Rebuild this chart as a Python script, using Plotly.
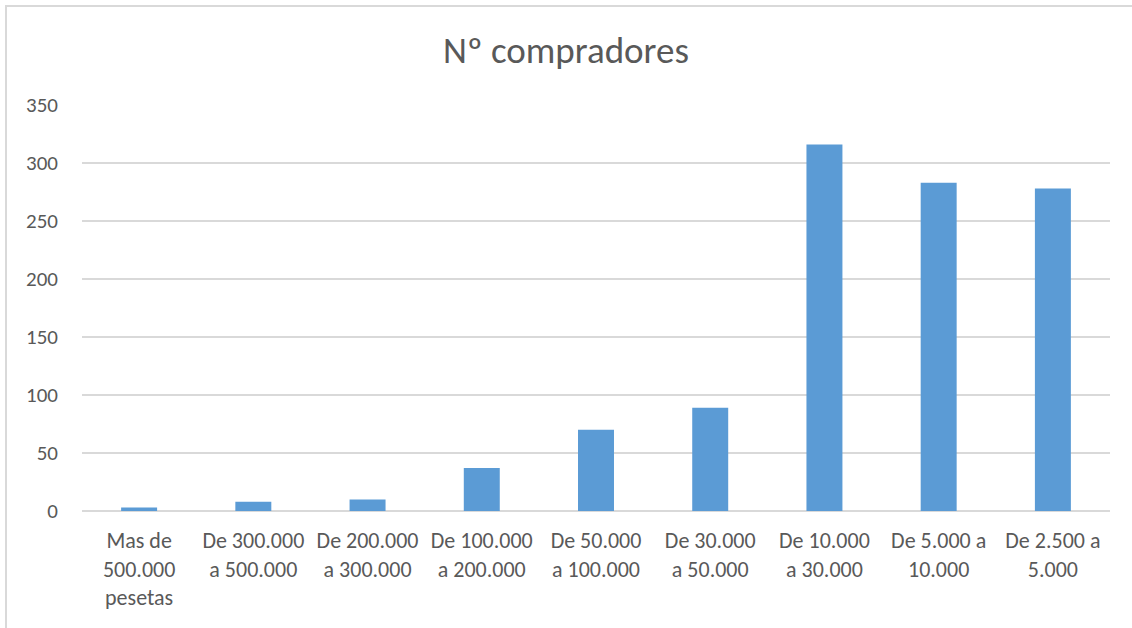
import plotly.graph_objects as go

categories = [
    "Mas de<br>500.000<br>pesetas",
    "De 300.000<br>a 500.000",
    "De 200.000<br>a 300.000",
    "De 100.000<br>a 200.000",
    "De 50.000<br>a 100.000",
    "De 30.000<br>a 50.000",
    "De 10.000<br>a 30.000",
    "De 5.000 a<br>10.000",
    "De 2.500 a<br>5.000",
]
compradores = [3, 8, 10, 37, 70, 89, 316, 283, 278]
y_ticks = [0, 50, 100, 150, 200, 250, 300, 350]

FONT = "Carlito, Lato, 'Open Sans', sans-serif"
TEXT = "#595959"
GRID = "#d9d9d9"

fig = go.Figure(
    go.Bar(
        x=categories,
        y=compradores,
        marker=dict(color="#5B9BD5", line=dict(width=0)),
        name="Nº compradores",
    )
)

W, H = 1132, 628
L, R, T, B = 82, 22, 105, 117
pw, ph = W - L - R, H - T - B

fig.update_layout(
    width=W,
    height=H,
    margin=dict(l=L, r=R, t=T, b=B, pad=0),
    paper_bgcolor="white",
    plot_bgcolor="white",
    bargap=0.685,
    showlegend=False,
    font=dict(family=FONT, color=TEXT, size=21),
    title=dict(
        text="Nº compradores",
        x=0.5,
        xanchor="center",
        y=1 - 50 / H,
        yanchor="middle",
        yref="container",
        font=dict(family=FONT, size=37, color=TEXT),
    ),
    xaxis=dict(
        showgrid=False,
        showline=False,
        zeroline=False,
        ticks="",
        tickfont=dict(family=FONT, size=22, color=TEXT),
        ticklabelstandoff=14,
        tickangle=0,
    ),
    yaxis=dict(
        range=[0, 350],
        tickvals=y_ticks,
        showgrid=True,
        gridcolor=GRID,
        gridwidth=1.5,
        zeroline=True,
        zerolinecolor=GRID,
        zerolinewidth=1.5,
        showline=False,
        ticks="",
        tickfont=dict(family=FONT, size=21, color=TEXT),
        ticklabelstandoff=23,
    ),
    shapes=[
        dict(
            type="rect",
            xref="paper",
            yref="paper",
            x0=(6 - L) / pw,
            x1=(W + 20 - L) / pw,
            y0=-0.6,
            y1=(H - B - 6) / ph,
            line=dict(color=GRID, width=2),
            fillcolor="rgba(0,0,0,0)",
            layer="below",
        )
    ],
)

fig.write_html(
    "out.html",
    config={"displayModeBar": False},
    post_script="document.body.style.margin='0';document.body.style.overflow='hidden';",
)
